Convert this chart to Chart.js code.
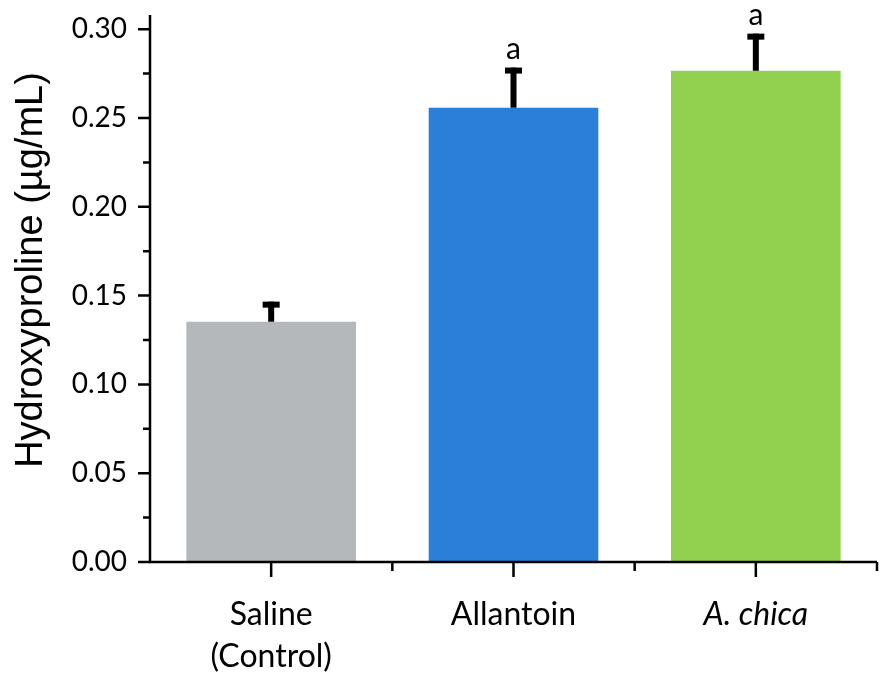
<!DOCTYPE html>
<html>
<head>
<meta charset="utf-8">
<script src="https://cdn.jsdelivr.net/npm/chart.js@4.4.1/dist/chart.umd.min.js"></script>
<style>
  html, body { margin: 0; padding: 0; background: #fff; }
  #wrap { width: 881px; height: 678px; }
</style>
</head>
<body>
<div id="wrap"><canvas id="hypChart" width="881" height="678"></canvas></div>
<script>
// values
const categories = [['Saline', '(Control)'], 'Allantoin', 'A. chica'];
const means = [0.1353, 0.2558, 0.2766];
const upperErrors = [0.0113, 0.0226, 0.0209];
const sigLetters = ['', 'a', 'a'];
const barColors = ['#b4b8bb', '#2a7fd8', '#92d050'];
const yMajorTicks = [0, 0.05, 0.10, 0.15, 0.20, 0.25, 0.30];
const yMinorTicks = [0.025, 0.075, 0.125, 0.175, 0.225, 0.275];
const yTitle = 'Hydroxyproline (\u00b5g/mL)';

const allTicks = yMajorTicks.concat(yMinorTicks).sort(function (a, b) { return a - b; });

// axes, tick marks, error bars, letters and y title
const extrasPlugin = {
  id: 'extras',
  afterDraw: function (chart) {
    const ctx = chart.ctx;
    const area = chart.chartArea;
    const x = chart.scales.x;
    const y = chart.scales.y;
    const meta = chart.getDatasetMeta(0);

    ctx.save();
    ctx.strokeStyle = '#000';
    ctx.fillStyle = '#000';
    ctx.lineWidth = 2.5;
    ctx.lineCap = 'butt';

    // axis lines
    ctx.beginPath();
    ctx.moveTo(area.left, area.top);
    ctx.lineTo(area.left, area.bottom + 1.25);
    ctx.moveTo(area.left - 1.25, area.bottom);
    ctx.lineTo(area.right, area.bottom);
    ctx.stroke();

    // y tick marks
    ctx.beginPath();
    yMajorTicks.forEach(function (v) {
      const py = y.getPixelForValue(v);
      ctx.moveTo(area.left - 12, py);
      ctx.lineTo(area.left, py);
    });
    yMinorTicks.forEach(function (v) {
      const py = y.getPixelForValue(v);
      ctx.moveTo(area.left - 7, py);
      ctx.lineTo(area.left, py);
    });
    // x tick marks: major at categories, minor between
    const n = categories.length;
    for (let i = 0; i < n; i++) {
      const px = x.getPixelForValue(i);
      ctx.moveTo(px, area.bottom);
      ctx.lineTo(px, area.bottom + 15);
    }
    for (let i = 1; i <= n; i++) {
      const px = x.getPixelForValue(i - 0.5);
      ctx.moveTo(px, area.bottom);
      ctx.lineTo(px, area.bottom + 9);
    }
    ctx.stroke();

    // error bars (upper only) and significance letters
    ctx.font = '30px Lato';
    ctx.textAlign = 'center';
    ctx.textBaseline = 'alphabetic';
    meta.data.forEach(function (bar, i) {
      const top = y.getPixelForValue(means[i] + upperErrors[i]);
      const base = y.getPixelForValue(means[i]);
      ctx.fillRect(bar.x - 3, top, 6, base - top);
      ctx.fillRect(bar.x - 8.5, top, 17, 6);
      if (sigLetters[i]) {
        ctx.fillText(sigLetters[i], bar.x, top - 9);
      }
    });

    // y axis title
    ctx.translate(42, 270);
    ctx.rotate(-Math.PI / 2);
    ctx.font = '38px "Liberation Sans"';
    ctx.textAlign = 'center';
    ctx.fillText(yTitle, 0, 0);
    ctx.restore();
  }
};

const ctx = document.getElementById('hypChart').getContext('2d');
const hypChart = new Chart(ctx, {
  type: 'bar',
  data: {
    labels: categories,
    datasets: [{
      data: means,
      backgroundColor: barColors,
      borderWidth: 0,
      barPercentage: 0.7,
      categoryPercentage: 1.0
    }]
  },
  options: {
    responsive: false,
    animation: false,
    layout: { padding: { left: 0, right: 4, top: 15, bottom: 0 } },
    plugins: {
      legend: { display: false },
      tooltip: { enabled: false }
    },
    scales: {
      x: {
        offset: true,
        grid: { display: false, drawTicks: false },
        border: { display: false },
        ticks: {
          color: '#000',
          padding: 32,
          maxRotation: 0,
          autoSkip: false,
          font: function (c) {
            return {
              family: 'Lato',
              size: 32,
              lineHeight: 1.3125,
              style: c.index === 2 ? 'italic' : 'normal'
            };
          }
        },
        afterFit: function (scale) {
          scale.height = 116;
          scale.paddingLeft = 0;
          scale.paddingRight = 0;
        }
      },
      y: {
        min: 0,
        max: 0.308,
        grid: { display: false, drawTicks: false },
        border: { display: false },
        afterBuildTicks: function (scale) {
          scale.ticks = allTicks.map(function (v) { return { value: v }; });
        },
        ticks: {
          color: '#000',
          padding: 23,
          font: { family: 'Lato', size: 28 },
          callback: function (value) {
            const major = yMajorTicks.some(function (m) { return Math.abs(m - value) < 1e-9; });
            return major ? value.toFixed(2) : '';
          }
        },
        afterFit: function (scale) {
          scale.width = 150;
          scale.paddingTop = 0;
          scale.paddingBottom = 0;
        }
      }
    }
  },
  plugins: [extrasPlugin]
});
</script>
</body>
</html>
